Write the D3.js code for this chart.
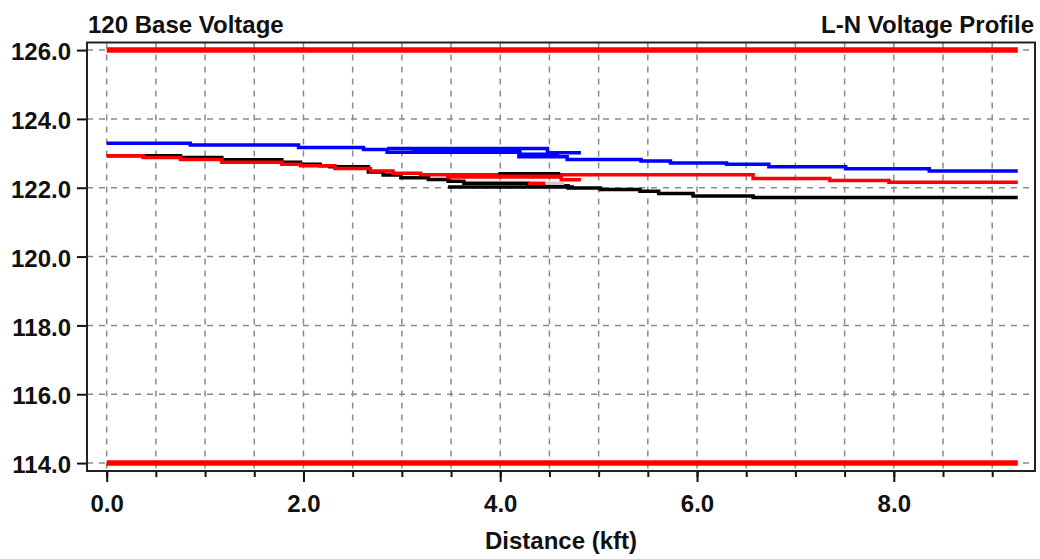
<!DOCTYPE html>
<html>
<head>
<meta charset="utf-8">
<script src="https://cdn.jsdelivr.net/npm/d3@7"></script>
<style>
  html, body { margin: 0; padding: 0; background: #fff; }
  svg { display: block; }
  text { font-family: "Liberation Sans", Arial, sans-serif; font-weight: bold; fill: #111; }
</style>
</head>
<body>
<svg id="chart" width="1040" height="559"></svg>
<script>
// ---------- data ----------
const titleLeft = "120 Base Voltage";
const titleRight = "L-N Voltage Profile";
const xAxisTitle = "Distance (kft)";

const xGridTicks = d3.range(0, 9.01, 0.5);
const xLabelTicks = [0, 2, 4, 6, 8];
const yTicks = [114, 116, 118, 120, 122, 124, 126];

const limitHigh = [[0, 126], [9.26, 126]];
const limitLow = [[0, 114], [9.26, 114]];

// [distance kft, voltage]
const blueMain = [[0, 123.29], [0.85, 123.24], [1.95, 123.17], [2.61, 123.11], [2.85, 123.03],
  [4.19, 122.90], [4.68, 122.82], [5.43, 122.78], [5.73, 122.72], [6.30, 122.68],
  [6.73, 122.61], [7.51, 122.55], [8.36, 122.49], [9.26, 122.49]];
const blueBranch = [[2.85, 123.14], [4.48, 123.02], [4.82, 123.02]];
const blueBranch2 = [[3.1, 123.08], [4.2, 122.97], [4.6, 122.97]];

const redMain = [[0, 122.93], [0.37, 122.88], [0.75, 122.82], [1.17, 122.74], [1.78, 122.68],
  [1.97, 122.64], [2.32, 122.56], [2.68, 122.49], [2.91, 122.42], [3.19, 122.38],
  [6.57, 122.27], [7.35, 122.21], [7.95, 122.16], [9.26, 122.16]];
const redBranch = [[3.45, 122.31], [4.62, 122.23], [4.82, 122.23]];
const redStub = [[4.28, 122.13], [4.46, 122.13]];
const grayStub = [[4.46, 122.13], [4.65, 122.13]];

const blackMain = [[0, 122.93], [0.75, 122.88], [1.17, 122.81], [1.78, 122.74], [1.97, 122.68],
  [2.17, 122.64], [2.27, 122.61], [2.66, 122.46], [2.81, 122.37], [2.99, 122.29],
  [3.27, 122.24], [3.47, 122.19], [3.63, 122.13], [4.28, 122.06], [4.69, 121.99],
  [5.02, 121.95], [5.42, 121.90], [5.61, 121.83], [5.96, 121.76], [6.57, 121.72],
  [9.26, 121.72]];
const blackBranch1 = [[3.98, 122.42], [4.61, 122.42]];
const blackBranch2 = [[3.47, 122.02], [4.75, 122.02]];

// ---------- layout ----------
const svg = d3.select("#chart");
const plot = { left: 87, top: 42.5, right: 1035, bottom: 471 };

const x = d3.scaleLinear().domain([-0.2, 9.435]).range([plot.left, plot.right]);
const y = d3.scaleLinear().domain([113.77, 126.22]).range([plot.bottom, plot.top]);

// grid
const grid = svg.append("g").attr("stroke", "#8a8a8a").attr("stroke-width", 1.5)
  .attr("stroke-dasharray", "6,6").attr("fill", "none");
grid.selectAll("line.v").data(xGridTicks).join("line").attr("class", "v")
  .attr("x1", d => x(d)).attr("x2", d => x(d)).attr("y1", plot.top).attr("y2", plot.bottom);
grid.selectAll("line.h").data(yTicks).join("line").attr("class", "h")
  .attr("x1", plot.left).attr("x2", plot.right).attr("y1", d => y(d)).attr("y2", d => y(d));

// axes
const xMinor = svg.append("g").attr("transform", `translate(0,${plot.bottom})`)
  .call(d3.axisBottom(x).tickValues(xGridTicks).tickSize(6).tickFormat(""));
const xMajor = svg.append("g").attr("transform", `translate(0,${plot.bottom})`)
  .call(d3.axisBottom(x).tickValues(xLabelTicks).tickSize(11).tickPadding(13).tickFormat(d3.format(".1f")));
const yAxis = svg.append("g").attr("transform", `translate(${plot.left},0)`)
  .call(d3.axisLeft(y).tickValues(yTicks).tickSize(10).tickPadding(6).tickFormat(d3.format(".1f")));

[xMinor, xMajor, yAxis].forEach(g => {
  g.select(".domain").remove();
  g.selectAll(".tick line").attr("stroke", "#111").attr("stroke-width", 2);
  g.selectAll(".tick text").attr("font-size", 24).attr("font-family", null).attr("fill", "#111");
});
yAxis.selectAll(".tick text").attr("dy", "0.4em");

// frame
svg.append("rect").attr("x", plot.left).attr("y", plot.top)
  .attr("width", plot.right - plot.left).attr("height", plot.bottom - plot.top)
  .attr("fill", "none").attr("stroke", "#222").attr("stroke-width", 2);

// lines
const line = d3.line().x(d => x(d[0])).y(d => y(d[1])).curve(d3.curveStepAfter);
const series = [
  { data: limitHigh, color: "#ff0000", w: 5.5 },
  { data: limitLow, color: "#ff0000", w: 5.5 },
  { data: blackBranch2, color: "#000000", w: 3.5 },
  { data: blackMain, color: "#000000", w: 3.5 },
  { data: redBranch, color: "#ff0000", w: 3.5 },
  { data: redMain, color: "#ff0000", w: 3.5 },
  { data: blackBranch1, color: "#000000", w: 2.5 },
  { data: redStub, color: "#ff0000", w: 3.5 },
  { data: grayStub, color: "#cccccc", w: 3.5 },
  { data: blueBranch2, color: "#0000ff", w: 3.5 },
  { data: blueBranch, color: "#0000ff", w: 3.5 },
  { data: blueMain, color: "#0000ff", w: 3.5 }
];
svg.append("g").selectAll("path").data(series).join("path")
  .attr("d", d => line(d.data)).attr("fill", "none")
  .attr("stroke", d => d.color).attr("stroke-width", d => d.w);

// titles
svg.append("text").attr("x", 88).attr("y", 32.5).attr("font-size", 24).text(titleLeft);
svg.append("text").attr("x", 1034).attr("y", 32.5).attr("font-size", 24)
  .attr("text-anchor", "end").text(titleRight);
svg.append("text").attr("x", (plot.left + plot.right) / 2).attr("y", 549)
  .attr("font-size", 24).attr("text-anchor", "middle").text(xAxisTitle);
</script>
</body>
</html>
